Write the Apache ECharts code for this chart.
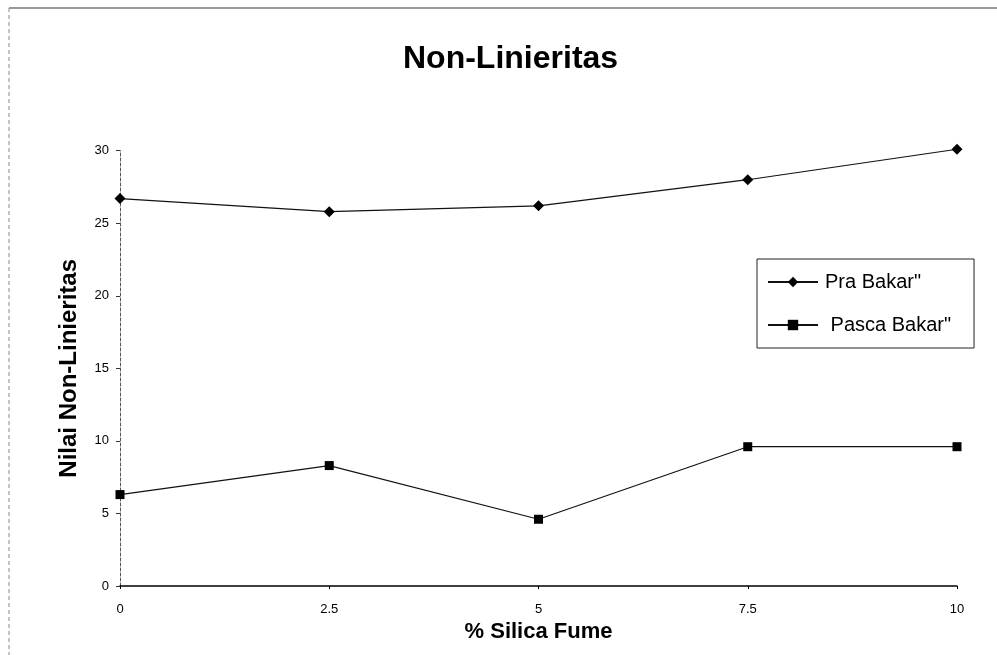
<!DOCTYPE html>
<html>
<head>
<meta charset="utf-8">
<script src="https://cdn.jsdelivr.net/npm/echarts@6/dist/echarts.min.js"></script>
<style>
  html, body { margin: 0; padding: 0; background: #fff; }
  #chart { width: 997px; height: 655px; }
</style>
</head>
<body>
<div id="chart"></div>
<script>
const categories = ['0', '2.5', '5', '7.5', '10'];
const praBakar = [26.7, 25.8, 26.2, 28.0, 30.1];
const pascaBakar = [6.3, 8.3, 4.6, 9.6, 9.6];
const seriesNames = ['Pra Bakar"', 'Pasca Bakar"'];
const yTicks = { min: 0, max: 30, interval: 5 };

const FONT = '"Liberation Sans", Arial, sans-serif';
const chart = echarts.init(document.getElementById('chart'), null, { renderer: 'canvas' });

chart.setOption({
  backgroundColor: '#ffffff',
  animation: false,
  title: {
    text: 'Non-Linieritas',
    left: 403,
    top: 43,
    padding: 0,
    textStyle: { fontFamily: FONT, fontSize: 32, fontWeight: 'bold', color: '#000' }
  },
  graphic: [
    { type: 'line', shape: { x1: 9, y1: 8, x2: 997, y2: 8 }, style: { stroke: '#333', lineWidth: 1 } },
    { type: 'line', shape: { x1: 9, y1: 8, x2: 9, y2: 655 }, style: { stroke: '#888', lineWidth: 1, lineDash: [4, 3] } }
  ],
  legend: {
    orient: 'vertical',
    left: 757,
    top: 259,
    padding: [13, 23, 13, 10],
    itemGap: 23,
    itemWidth: 50,
    itemHeight: 13,
    borderColor: '#222',
    borderWidth: 1,
    backgroundColor: '#fff',
    formatter: function (name) { return name === seriesNames[1] ? ' ' + name : name; },
    textStyle: { fontFamily: FONT, fontSize: 20, color: '#000', padding: [0, 0, 0, 2] },
    data: seriesNames
  },
  grid: { left: 120, right: 40, top: 150.7, bottom: 69, containLabel: false },
  xAxis: {
    type: 'category',
    data: categories,
    boundaryGap: false,
    name: '% Silica Fume',
    nameLocation: 'middle',
    nameGap: 33,
    nameTextStyle: { fontFamily: FONT, fontSize: 22, fontWeight: 'bold', color: '#000' },
    axisLine: { lineStyle: { color: '#000', width: 1.5 } },
    axisTick: { alignWithLabel: true, length: 3, lineStyle: { color: '#000' } },
    axisLabel: { fontFamily: FONT, fontSize: 13, color: '#000', margin: 17 },
    splitLine: { show: false }
  },
  yAxis: {
    type: 'value',
    min: yTicks.min,
    max: yTicks.max,
    interval: yTicks.interval,
    name: 'Nilai Non-Linieritas',
    nameLocation: 'middle',
    nameGap: 39,
    nameTextStyle: { fontFamily: FONT, fontSize: 24, fontWeight: 'bold', color: '#000' },
    axisLine: { show: true, lineStyle: { color: '#555', width: 1, type: [3, 2] } },
    axisTick: { show: true, length: 4, lineStyle: { color: '#333' } },
    axisLabel: { fontFamily: FONT, fontSize: 13, color: '#000', margin: 11 },
    splitLine: { show: false }
  },
  series: [
    {
      name: seriesNames[0],
      type: 'line',
      data: praBakar,
      symbol: 'diamond',
      symbolSize: 11,
      clip: false,
      itemStyle: { color: '#000' },
      lineStyle: { color: '#111', width: 1.2 }
    },
    {
      name: seriesNames[1],
      type: 'line',
      data: pascaBakar,
      symbol: 'rect',
      symbolSize: 9,
      clip: false,
      itemStyle: { color: '#000' },
      lineStyle: { color: '#111', width: 1.2 }
    }
  ]
});
</script>
</body>
</html>
